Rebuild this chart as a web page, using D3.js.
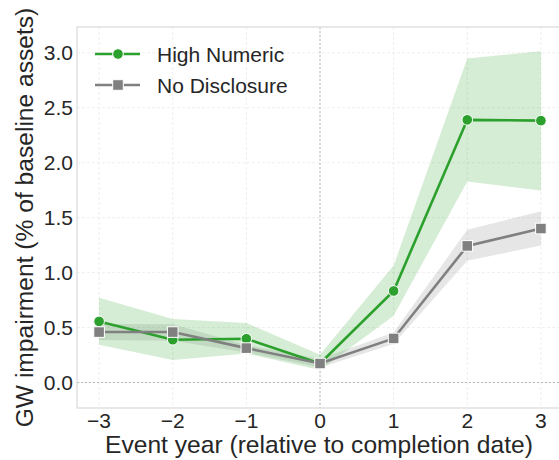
<!DOCTYPE html>
<html>
<head>
<meta charset="utf-8">
<script src="https://cdn.jsdelivr.net/npm/d3@7"></script>
<style>
  body { margin: 0; background: #fff; }
  svg text { font-family: "Liberation Sans", Arial, sans-serif; fill: #262626; }
</style>
</head>
<body>
<div id="chart"></div>
<script>
// --- data ---
const years = [-3, -2, -1, 0, 1, 2, 3];

const highNumeric = [0.556, 0.389, 0.398, 0.173, 0.833, 2.39, 2.383];
const highLower   = [0.344, 0.204, 0.264, 0.113, 0.608, 1.83, 1.748];
const highUpper   = [0.772, 0.578, 0.541, 0.252, 1.064, 2.948, 3.015];

const noDisc      = [0.459, 0.459, 0.313, 0.173, 0.401, 1.243, 1.401];
const noLower     = [0.386, 0.38, 0.273, 0.137, 0.35, 1.109, 1.246];
const noUpper     = [0.532, 0.53, 0.341, 0.213, 0.456, 1.389, 1.559];

const yTicks = [0, 0.5, 1.0, 1.5, 2.0, 2.5, 3.0];

const W = 559, H = 460;
const margin = { top: 27, right: -4, bottom: 52, left: 77 };

const svg = d3.select("#chart").append("svg")
  .attr("width", W)
  .attr("height", H);

const x = d3.scaleLinear()
  .domain([-3.3, 3.3])
  .range([margin.left, W - margin.right]);

const y = d3.scaleLinear()
  .domain([-0.232, 3.235])
  .range([H - margin.bottom, margin.top]);

const plot = svg.append("g");

// grid
plot.selectAll(".xgrid").data(years).enter().append("line")
  .attr("x1", d => x(d)).attr("x2", d => x(d))
  .attr("y1", margin.top).attr("y2", H - margin.bottom)
  .attr("stroke", "#ebebeb").attr("stroke-width", 0.8)
  .attr("stroke-dasharray", "3,2");

plot.selectAll(".ygrid").data(yTicks).enter().append("line")
  .attr("x1", margin.left).attr("x2", W - margin.right)
  .attr("y1", d => y(d)).attr("y2", d => y(d))
  .attr("stroke", "#ebebeb").attr("stroke-width", 0.8)
  .attr("stroke-dasharray", "3,2");

// reference lines at 0
plot.append("line")
  .attr("x1", margin.left).attr("x2", W - margin.right)
  .attr("y1", y(0)).attr("y2", y(0))
  .attr("stroke", "#b8b8b8").attr("stroke-width", 1)
  .attr("stroke-dasharray", "2,2");
plot.append("line")
  .attr("x1", x(0)).attr("x2", x(0))
  .attr("y1", margin.top).attr("y2", H - margin.bottom)
  .attr("stroke", "#b8b8b8").attr("stroke-width", 1)
  .attr("stroke-dasharray", "2,2");

// frame
plot.append("rect")
  .attr("x", margin.left).attr("y", margin.top)
  .attr("width", W - margin.right - margin.left)
  .attr("height", H - margin.bottom - margin.top)
  .attr("fill", "none").attr("stroke", "#d9d9d9").attr("stroke-width", 1.2);

const series = [
  { name: "High Numeric", color: "#2ca02c", mean: highNumeric, lo: highLower, hi: highUpper, marker: "circle" },
  { name: "No Disclosure", color: "#808080", mean: noDisc, lo: noLower, hi: noUpper, marker: "square" }
];

const area = d3.area()
  .x((d, i) => x(years[i]))
  .y0(d => y(d[0]))
  .y1(d => y(d[1]));

const line = d3.line()
  .x((d, i) => x(years[i]))
  .y(d => y(d));

// bands first (gray then green, green on top as in reference)
series.slice().reverse().forEach(s => {
  plot.append("path")
    .datum(s.lo.map((v, i) => [v, s.hi[i]]))
    .attr("d", area)
    .attr("fill", s.color)
    .attr("fill-opacity", 0.2);
});

function drawMarker(g, s, cx, cy) {
  if (s.marker === "circle") {
    g.append("circle").attr("cx", cx).attr("cy", cy).attr("r", 5.3)
      .attr("fill", s.color).attr("stroke", "#fff").attr("stroke-width", 1);
  } else {
    g.append("rect").attr("x", cx - 5.3).attr("y", cy - 5.3)
      .attr("width", 10.6).attr("height", 10.6)
      .attr("fill", s.color).attr("stroke", "#fff").attr("stroke-width", 1);
  }
}

series.forEach(s => {
  plot.append("path")
    .datum(s.mean)
    .attr("d", line)
    .attr("fill", "none")
    .attr("stroke", s.color)
    .attr("stroke-width", 2.6);
  const mg = plot.append("g");
  s.mean.forEach((v, i) => drawMarker(mg, s, x(years[i]), y(v)));
});

// axes tick labels
svg.selectAll(".xt").data(years).enter().append("text")
  .attr("x", d => x(d)).attr("y", 428)
  .attr("text-anchor", "middle")
  .style("font-size", "21px")
  .text(d => d < 0 ? "\u2212" + Math.abs(d) : d);

svg.selectAll(".yt").data(yTicks).enter().append("text")
  .attr("x", margin.left - 4).attr("y", d => y(d))
  .attr("dy", "0.36em")
  .attr("text-anchor", "end")
  .style("font-size", "21px")
  .text(d => d3.format(".1f")(d));

// axis titles
svg.append("text")
  .attr("x", 319).attr("y", 453)
  .attr("text-anchor", "middle")
  .style("font-size", "24.6px")
  .text("Event year (relative to completion date)");

svg.append("text")
  .attr("transform", `translate(33, ${(margin.top + H - margin.bottom) / 2}) rotate(-90)`)
  .attr("text-anchor", "middle")
  .style("font-size", "24.6px")
  .text("GW impairment (% of baseline assets)");

// legend
const legend = svg.append("g");
series.forEach((s, i) => {
  const ly = 54 + i * 31;
  legend.append("line")
    .attr("x1", 95).attr("x2", 140)
    .attr("y1", ly).attr("y2", ly)
    .attr("stroke", s.color).attr("stroke-width", 2.6);
  drawMarker(legend, s, 118, ly);
  legend.append("text")
    .attr("x", 157).attr("y", ly).attr("dy", "0.36em")
    .style("font-size", "21px")
    .text(s.name);
});
</script>
</body>
</html>
